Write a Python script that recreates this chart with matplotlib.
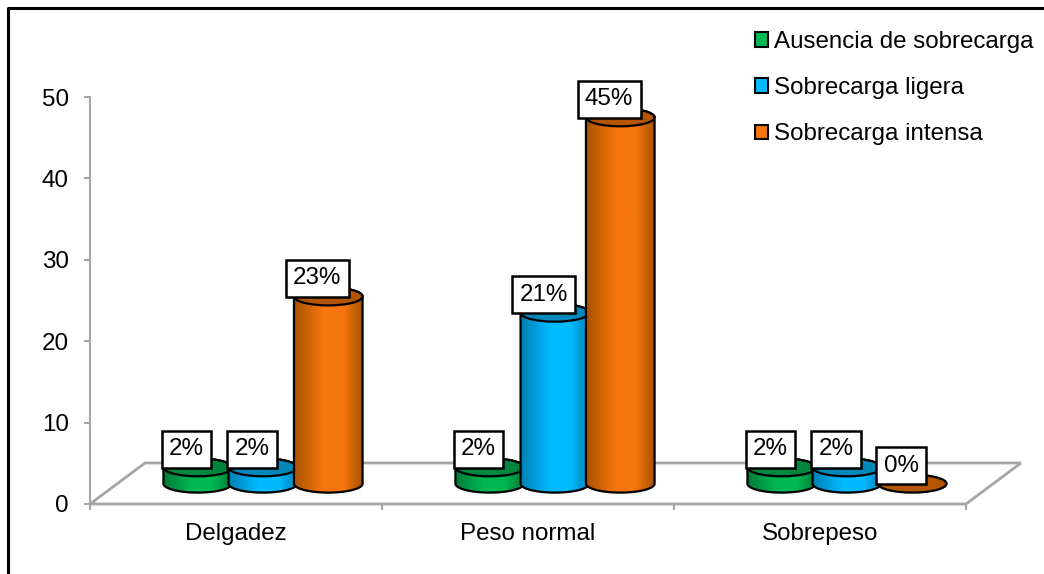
import numpy as np
import matplotlib
matplotlib.use('Agg')
import matplotlib.pyplot as plt
from matplotlib.colors import LinearSegmentedColormap
from matplotlib.lines import Line2D
from matplotlib.patches import Ellipse, PathPatch, Patch, Polygon
from matplotlib.path import Path

plt.rcParams['font.family'] = ['Liberation Sans', 'DejaVu Sans']

# Data
categories = ['Delgadez', 'Peso normal', 'Sobrepeso']
series_names = ['Ausencia de sobrecarga', 'Sobrecarga ligera', 'Sobrecarga intensa']
ausencia = [2, 2, 2]
ligera = [2, 21, 2]
intensa = [23, 45, 0]
y_ticks = [0, 10, 20, 30, 40, 50]

# Colours for each series: dark edge, bright middle, top of cylinder
colors = [('#007a38', '#00b853', '#00863d'),
          ('#0080b5', '#00baff', '#0088bb'),
          ('#a85200', '#f5750e', '#b45500')]

W, H = 1044, 574
fig = plt.figure(figsize=(W / 100, H / 100), dpi=100)
ax = fig.add_axes([90 / W, 1 - 504 / H, 876 / W, 407 / H])
ax.set_facecolor('none')

gray = '#a6a6a6'
depth_x = 55 / 292
depth_y = 41 / 8.14
base_y = 2.5
bar_w = 0.235
ell_h = 2.2

# Floor of the 3D chart
ax.add_patch(Polygon([(0, 0), (depth_x, depth_y), (3 + depth_x, depth_y), (3, 0)],
                     closed=True, fc='none', ec=gray, lw=2, clip_on=False, zorder=1))


def cylinder(xc, value, dark, bright, top, z):
    x0, x1 = xc - bar_w / 2, xc + bar_w / 2
    ytop = base_y + value
    if value > 0:
        t = np.linspace(np.pi, 2 * np.pi, 60)
        xs = xc + bar_w / 2 * np.cos(t)
        ys = base_y + ell_h / 2 * np.sin(t)
        t2 = t - np.pi
        xs2 = xc + bar_w / 2 * np.cos(t2)
        ys2 = ytop + ell_h / 2 * np.sin(t2)
        verts = np.vstack([np.column_stack([xs, ys]), np.column_stack([xs2, ys2]), [xs[0], ys[0]]])
        path = Path(verts, closed=True)
        cmap = LinearSegmentedColormap.from_list('c', [(0, dark), (0.42, bright), (0.72, bright), (1, dark)])
        im = ax.imshow(np.linspace(0, 1, 256).reshape(1, -1), cmap=cmap, aspect='auto',
                       extent=(x0, x1, base_y - ell_h, ytop + ell_h), zorder=z, clip_on=True)
        outline = PathPatch(path, fc='none', ec='black', lw=1.6, zorder=z + 0.1, clip_on=False)
        ax.add_patch(outline)
        im.set_clip_path(path, ax.transData)
    ax.add_patch(Ellipse((xc, ytop), bar_w, ell_h, fc=top, ec='black', lw=1.6,
                         zorder=z + 0.2, clip_on=False))


offsets = [0.369, 0.592, 0.816]
all_values = [ausencia, ligera, intensa]
z = 3
for c in range(len(categories)):
    for s, vals in enumerate(all_values):
        cylinder(c + offsets[s], vals[c], *colors[s], z)
        z += 1

# Boxed value labels
for c in range(len(categories)):
    for s, vals in enumerate(all_values):
        ax.annotate(f'{vals[c]}%', (c + offsets[s], base_y + vals[c]),
                    xytext=(-8, 13), textcoords='offset points', ha='center', va='center',
                    fontsize=17.4, zorder=50,
                    bbox=dict(boxstyle='square,pad=0.3', fc='white', ec='black', lw=1.8))

ax.set_xlim(0, 3)
ax.set_ylim(0, 50)
ax.set_yticks(y_ticks)
ax.set_xticks([0, 1, 2, 3])
ax.set_xticklabels([])
ax.set_xticks([0.5, 1.5, 2.5], minor=True)
ax.set_xticklabels(categories, minor=True)
ax.tick_params(axis='x', which='minor', length=0, pad=14, labelsize=17.4)
ax.tick_params(axis='x', which='major', length=4.3, width=1.5, color=gray)
ax.tick_params(axis='y', length=4.3, width=1.5, color=gray, pad=11, labelsize=17.4)
ax.spines['top'].set_visible(False)
ax.spines['right'].set_visible(False)
ax.spines['left'].set_color(gray)
ax.spines['left'].set_linewidth(1.5)
ax.spines['bottom'].set_color(gray)
ax.spines['bottom'].set_linewidth(1.5)

# Legend
handles = [Patch(fc=colors[i][1], ec='black', lw=1.5) for i in range(3)]
fig.legend(handles, series_names, loc='upper left', bbox_to_anchor=(755 / W, 1 - 31 / H),
           frameon=False, fontsize=17.4, labelspacing=1.0, handlelength=0.55, handleheight=0.55,
           handletextpad=0.25, borderpad=0, borderaxespad=0)

# Black frame at left and top
fig.add_artist(Line2D([7.5 / W, 7.5 / W, 1], [0, 1 - 7.5 / H, 1 - 7.5 / H], color='black', lw=2.2))

fig.savefig('out.png', dpi=100)
